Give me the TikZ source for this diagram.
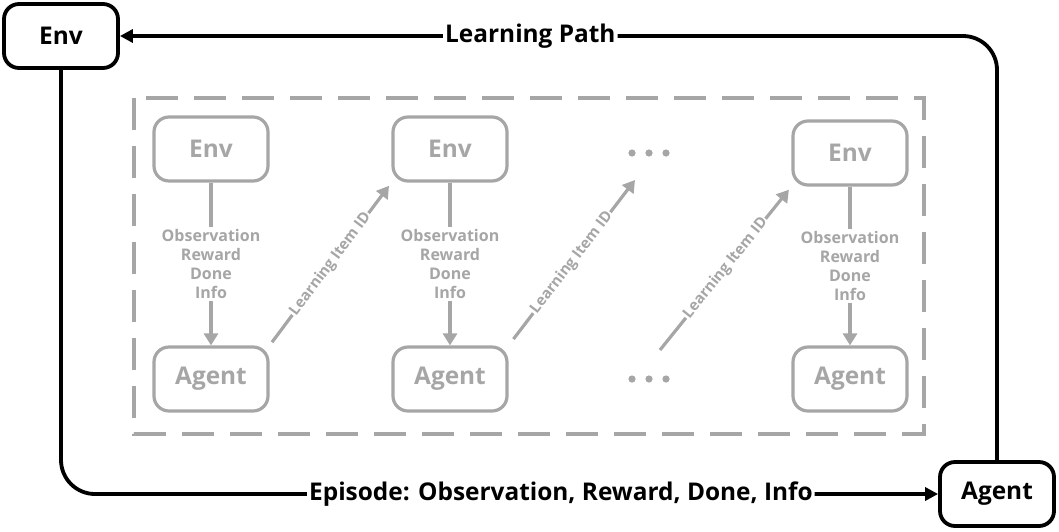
\documentclass[tikz,border=0pt]{standalone}
\usepackage{fontspec}
\setmainfont{Open Sans}
\usetikzlibrary{arrows.meta,shapes}
\definecolor{boxgray}{RGB}{166,166,166}
\newcommand{\boxw}{57pt}
\newcommand{\boxh}{32pt}
\newcommand{\dotr}{1.8pt}

\begin{document}
\begin{tikzpicture}[x=0.5pt,y=-0.5pt,
    BoxStyle/.style={draw, rounded corners=7.5pt, minimum width=\boxw, minimum height=\boxh,
        inner sep=0pt, font=\fontsize{12.2}{14}\selectfont\bfseries},
    OuterBox/.style={BoxStyle, line width=1.9pt},
    InnerBox/.style={BoxStyle, draw=boxgray, text=boxgray, line width=1.6pt},
    OuterLine/.style={line width=1.9pt, rounded corners=17pt, -{Triangle[length=6.5pt,width=6.5pt]}},
    InnerLine/.style={draw=boxgray, line width=1.6pt, -{Triangle[length=6pt,width=7pt]}},
    PathLabel/.style={fill=white, inner sep=1pt, font=\fontsize{12.2}{14}\selectfont\bfseries},
    StepLabel/.style={fill=white, inner sep=1pt, text=boxgray, align=center,
        font=\fontsize{8}{9.5}\selectfont\bfseries},
    ItemLabel/.style={fill=white, inner sep=0.5pt, text=boxgray, sloped,
        font=\fontsize{7.5}{9}\selectfont\bfseries},
    DashBox/.style={draw=boxgray, line width=1.6pt, dash pattern=on 16pt off 8pt}]
    \useasboundingbox (0,0) rectangle (1059,531);

    % outer loop
    \node[OuterBox] (env) at (61,36) {Env};
    \node[OuterBox] (agent) at (997,494) {Agent};
    \draw[OuterLine] (agent.north) |- (env.east) node[PathLabel, pos=0.766] {Learning Path};
    \draw[OuterLine] (env.south) |- (agent.west) node[PathLabel, pos=0.785] {Episode: Observation, Reward, Done, Info};

    % inner episode
    \draw[DashBox] (134,98) rectangle (924,434);
    \node[InnerBox] (env1) at (211,149) {Env};
    \node[InnerBox] (env2) at (450,149) {Env};
    \node[InnerBox] (env3) at (850,153) {Env};
    \node[InnerBox] (agent1) at (211,379) {Agent};
    \node[InnerBox] (agent2) at (450,379) {Agent};
    \node[InnerBox] (agent3) at (850,379) {Agent};
    \coordinate (dotsT) at (649,153);
    \coordinate (dotsB) at (649,379);
    \foreach \d in {-17,0,17} {
        \fill[boxgray] ([xshift=\d*0.5pt]dotsT) circle (\dotr);
        \fill[boxgray] ([xshift=\d*0.5pt]dotsB) circle (\dotr);
    }
    \coordinate (dotsTin) at (635,180);
    \coordinate (dotsBout) at (660,350);

    \foreach \i in {1,2,3}
        \draw[InnerLine] (env\i) -- (agent\i) node[StepLabel, midway] {Observation\\Reward\\Done\\Info};

    \draw[InnerLine, shorten <=2pt, shorten >=2pt] (agent1.north east) -- (env2.south west)
        node[ItemLabel, midway] {Learning Item ID};
    \draw[InnerLine, shorten <=4pt] (agent2.north east) -- (dotsTin)
        node[ItemLabel, midway] {Learning Item ID};
    \draw[InnerLine, shorten >=2pt] (dotsBout) -- (env3.south west)
        node[ItemLabel, midway] {Learning Item ID};
\end{tikzpicture}
\end{document}
